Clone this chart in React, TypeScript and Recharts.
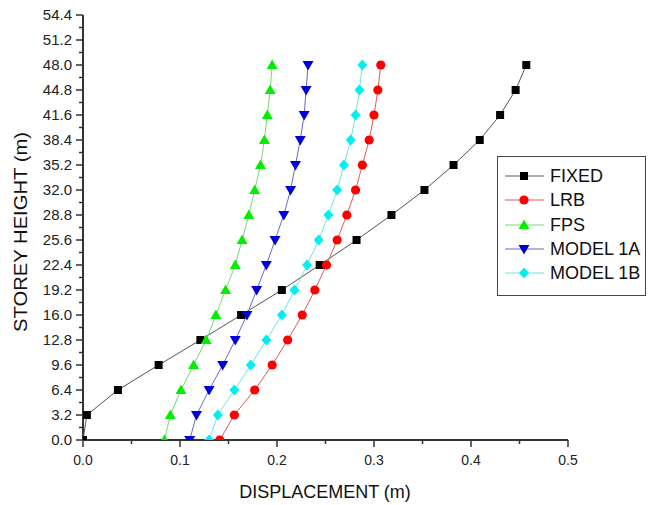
import { ScatterChart, Scatter, XAxis, YAxis, Legend } from 'recharts'

// storey levels (m)
const heights = [0, 3.2, 6.4, 9.6, 12.8, 16.0, 19.2, 22.4, 25.6, 28.8, 32.0, 35.2, 38.4, 41.6, 44.8, 48.0]

// displacement (m) at each storey level
const fixedDisp = [0.0, 0.004, 0.036, 0.078, 0.121, 0.163, 0.205, 0.244, 0.282, 0.318, 0.352, 0.382, 0.409, 0.430, 0.446, 0.457]
const lrbDisp = [0.141, 0.156, 0.177, 0.195, 0.211, 0.226, 0.239, 0.251, 0.262, 0.272, 0.281, 0.288, 0.295, 0.300, 0.304, 0.307]
const fpsDisp = [0.084, 0.090, 0.101, 0.114, 0.127, 0.137, 0.147, 0.157, 0.164, 0.171, 0.177, 0.183, 0.187, 0.190, 0.193, 0.195]
const model1aDisp = [0.110, 0.117, 0.130, 0.144, 0.157, 0.169, 0.179, 0.189, 0.198, 0.207, 0.214, 0.219, 0.224, 0.228, 0.230, 0.232]
const model1bDisp = [0.130, 0.139, 0.156, 0.173, 0.189, 0.205, 0.218, 0.231, 0.243, 0.253, 0.262, 0.269, 0.276, 0.281, 0.285, 0.288]

const xTicks = [0, 0.1, 0.2, 0.3, 0.4, 0.5]
const xMinorTicks = [0.05, 0.15, 0.25, 0.35, 0.45]
const yTicks = [0, 3.2, 6.4, 9.6, 12.8, 16.0, 19.2, 22.4, 25.6, 28.8, 32.0, 35.2, 38.4, 41.6, 44.8, 48.0, 51.2, 54.4]
const yMinorTicks = [1.6, 4.8, 8.0, 11.2, 14.4, 17.6, 20.8, 24.0, 27.2, 30.4, 33.6, 36.8, 40.0, 43.2, 46.4, 49.6, 52.8]

const FONT = '"Liberation Sans", Arial, sans-serif'
const AXIS = '#333'

type Kind = 'square' | 'circle' | 'up' | 'down' | 'diamond'

const series: { name: string; values: number[]; color: string; line: string; kind: Kind }[] = [
  { name: 'FIXED', values: fixedDisp, color: '#000000', line: '#555555', kind: 'square' },
  { name: 'LRB', values: lrbDisp, color: '#ff0000', line: '#e05a5a', kind: 'circle' },
  { name: 'FPS', values: fpsDisp, color: '#00ee00', line: '#6fdf6f', kind: 'up' },
  { name: 'MODEL 1A', values: model1aDisp, color: '#0000dd', line: '#6a6ac8', kind: 'down' },
  { name: 'MODEL 1B', values: model1bDisp, color: '#00f0f0', line: '#6ae6e6', kind: 'diamond' },
]

function Marker({ kind, color, cx, cy }: { kind: Kind; color: string; cx: number; cy: number }) {
  if (kind === 'square') return <rect x={cx - 4} y={cy - 4} width={8} height={8} fill={color} />
  if (kind === 'circle') return <circle cx={cx} cy={cy} r={4.6} fill={color} />
  if (kind === 'up')
    return <polygon points={`${cx},${cy - 5.5} ${cx + 5.5},${cy + 4} ${cx - 5.5},${cy + 4}`} fill={color} />
  if (kind === 'down')
    return <polygon points={`${cx},${cy + 5.5} ${cx + 5.5},${cy - 4} ${cx - 5.5},${cy - 4}`} fill={color} />
  return <polygon points={`${cx},${cy - 5.5} ${cx + 5},${cy} ${cx},${cy + 5.5} ${cx - 5},${cy}`} fill={color} />
}

function XTick({ x, y, payload }: any) {
  const major = xTicks.some((t) => Math.abs(t - payload.value) < 1e-6)
  return (
    <g>
      <line x1={x} x2={x} y1={y} y2={y + (major ? 7 : 4)} stroke={AXIS} strokeWidth={1.5} />
      {major && (
        <text x={x} y={y + 25} textAnchor="middle" fontSize={14} fontFamily={FONT} fill="#222">
          {payload.value.toFixed(1)}
        </text>
      )}
    </g>
  )
}

function YTick({ x, y, payload }: any) {
  const major = yTicks.some((t) => Math.abs(t - payload.value) < 1e-6)
  return (
    <g>
      <line x1={x} x2={x - (major ? 7 : 4)} y1={y} y2={y} stroke={AXIS} strokeWidth={1.5} />
      {major && (
        <text x={x - 11} y={y} dy="0.35em" textAnchor="end" fontSize={15} fontFamily={FONT} fill="#222">
          {payload.value.toFixed(1)}
        </text>
      )}
    </g>
  )
}

function LegendBox() {
  return (
    <div
      style={{
        width: 147,
        height: 131,
        border: '1px solid #444',
        background: '#fff',
        paddingTop: 7,
        boxSizing: 'content-box',
        fontFamily: FONT,
      }}
    >
      {series.map((s) => (
        <div key={s.name} style={{ display: 'flex', alignItems: 'center', height: 24.3 }}>
          <svg width={52} height={20} style={{ display: 'block' }}>
            <line x1={7} x2={46} y1={10} y2={10} stroke={s.line} strokeWidth={1} />
            <Marker kind={s.kind} color={s.color} cx={26} cy={10} />
          </svg>
          <span style={{ fontSize: 18, color: '#111', lineHeight: '20px' }}>{s.name}</span>
        </div>
      ))}
    </div>
  )
}

export default function App() {
  return (
    <div style={{ width: 653, height: 505, background: '#fff' }}>
      <style>{'body{margin:0}'}</style>
      <ScatterChart width={653} height={505} margin={{ top: 15, right: 85, left: 0, bottom: 0 }}>
        <XAxis
          type="number"
          dataKey="x"
          domain={[0, 0.5]}
          ticks={[...xTicks, ...xMinorTicks].sort((a, b) => a - b)}
          interval={0}
          height={65}
          tickSize={0}
          tickMargin={0}
          tickLine={false}
          tick={<XTick />}
          axisLine={{ stroke: AXIS, strokeWidth: 2 }}
          allowDataOverflow
          label={() => (
            <text x={325} y={498} textAnchor="middle" fontSize={18} fontFamily={FONT} fill="#111">
              DISPLACEMENT (m)
            </text>
          )}
        />
        <YAxis
          type="number"
          dataKey="y"
          domain={[0, 54.4]}
          ticks={[...yTicks, ...yMinorTicks].sort((a, b) => a - b)}
          interval={0}
          width={83}
          tickSize={0}
          tickMargin={0}
          tickLine={false}
          tick={<YTick />}
          axisLine={{ stroke: AXIS, strokeWidth: 2 }}
          allowDataOverflow
          label={() => (
            <text
              x={21}
              y={232}
              transform="rotate(-90 21 232)"
              textAnchor="middle"
              dominantBaseline="central"
              fontSize={18}
              fontFamily={FONT}
              fill="#111"
              textLength={200}
              lengthAdjust="spacingAndGlyphs"
            >
              STOREY HEIGHT (m)
            </text>
          )}
        />
        <Legend
          layout="vertical"
          align="center"
          verticalAlign="middle"
          wrapperStyle={{ left: 497, top: 156, width: 149 }}
          content={() => <LegendBox />}
        />
        {series.map((s) => (
          <Scatter
            key={s.name}
            name={s.name}
            data={heights.map((h, i) => ({ x: s.values[i], y: h }))}
            fill={s.color}
            line={{ stroke: s.line, strokeWidth: 1 }}
            lineType="joint"
            shape={(p: any) => <Marker kind={s.kind} color={s.color} cx={p.cx} cy={p.cy} />}
            isAnimationActive={false}
          />
        ))}
      </ScatterChart>
    </div>
  )
}
